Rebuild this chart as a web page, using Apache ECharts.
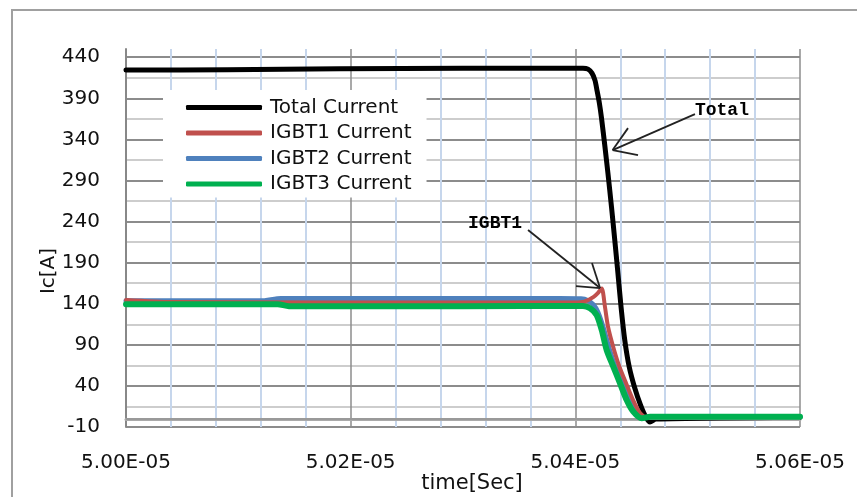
<!DOCTYPE html>
<html>
<head>
<meta charset="utf-8">
<script src="https://cdn.jsdelivr.net/npm/echarts@6/dist/echarts.min.js"></script>
<style>html,body{margin:0;padding:0;background:#fff}#c{width:857px;height:497px}</style>
</head>
<body>
<div id="c"></div>
<script>
// ---- data (time in ns, current in A) ----
const xTickLabels = ['5.00E-05', '5.02E-05', '5.04E-05', '5.06E-05'];
const yMajorTicks = [-10, 40, 90, 140, 190, 240, 290, 340, 390, 440];

const totalT = [50000, 50090, 50190, 50300, 50406.8, 50411.3, 50414.8, 50417.5, 50419.3, 50421.4, 50423.2, 50426.4, 50429.0, 50432.2, 50435.1, 50437.9, 50440.7, 50444.0, 50448.0, 50452.9, 50458.0, 50462.7, 50466.5, 50471.8, 50600];
const totalI = [424.3, 424.8, 426, 426.5, 426.7, 425.5, 420.7, 411.8, 399.6, 384.2, 367.1, 330.6, 299, 257.6, 217.5, 177.3, 136, 95.8, 63, 37.4, 16.8, 2.2, -3.9, -0.3, 2];

const igbt1T = [50000, 50040, 50300, 50400, 50408, 50416, 50420, 50423.5, 50426.4, 50429.1, 50433.6, 50439.3, 50445.1, 50451.3, 50457.6, 50463.8, 50470, 50600];
const igbt1I = [144.5, 142, 141.5, 141.5, 142.5, 148, 153, 158.5, 136, 112, 88, 63, 43.5, 23, 7, 1, 2.5, 2.5];

const igbt2T = [50000, 50120, 50138, 50300, 50386, 50405, 50411, 50416, 50420, 50424.6, 50430, 50435, 50441, 50447, 50453, 50460, 50467, 50600];
const igbt2I = [143.5, 143.5, 146.5, 146.5, 146.5, 146, 144, 139, 130, 112, 86, 65, 45, 25, 10, 1.5, 2.5, 2.5];

const igbt3T = [50000, 50135, 50145, 50300, 50406.8, 50413.1, 50419, 50423.5, 50427.9, 50433.8, 50439.8, 50445.7, 50451.6, 50459.1, 50466.5, 50600];
const igbt3I = [139.5, 139.5, 137, 137, 137.2, 134.4, 126.3, 108, 83.7, 63.4, 43.2, 22.8, 8.6, 0.6, 2.5, 2.5];

const zip = (t, v) => t.map((x, i) => [x, v[i]]);

const chart = echarts.init(document.getElementById('c'), null, {renderer: 'canvas'});
const font = 'DejaVu Sans';
const arrowStyle = {color: '#222', width: 1.8, type: 'solid'};
const seg = (a, b) => [{coord: a}, {coord: b}];

const lineSeries = (name, t, v, color, width, z) => ({
  name, type: 'line', data: zip(t, v), showSymbol: false, symbol: 'none',
  smooth: 0.25, z, lineStyle: {color, width, cap: 'round', join: 'round'},
  itemStyle: {color}, emphasis: {disabled: true}, silent: true
});

chart.setOption({
  animation: false,
  backgroundColor: '#fff',
  graphic: [{
    type: 'rect', shape: {x: 12, y: 10, width: 900, height: 600},
    style: {fill: 'none', stroke: '#a0a0a0', lineWidth: 2}, silent: true
  }],
  grid: {left: 126, right: 57, top: 49, bottom: 70, containLabel: false, outerBoundsMode: 'none'},
  legend: {
    data: ['Total Current', 'IGBT1 Current', 'IGBT2 Current', 'IGBT3 Current'],
    orient: 'vertical', left: 163, top: 90,
    backgroundColor: '#fff', padding: [5, 15, 1, 23],
    itemGap: 0.5, itemWidth: 76, itemHeight: 5, icon: 'roundRect',
    textStyle: {fontFamily: font, fontSize: 20, color: '#111', lineHeight: 25, padding: [0, 0, 0, 3]},
    selectedMode: false
  },
  xAxis: {
    type: 'value', min: 50000, max: 50600, interval: 200,
    name: 'time[Sec]', nameLocation: 'middle', nameGap: 46, nameMoveOverlap: false,
    nameTextStyle: {fontFamily: font, fontSize: 21, color: '#111', padding: [0, 0, 0, 18]},
    axisLine: {show: true, lineStyle: {color: '#aaa', width: 3}},
    axisTick: {show: false},
    axisLabel: {
      margin: 26, fontFamily: font, fontSize: 20, color: '#111',
      formatter: v => xTickLabels[Math.round((v - 50000) / 200)] || ''
    },
    splitLine: {show: true, lineStyle: {color: '#8c8c8c', width: 1.5}},
    minorTick: {show: false, splitNumber: 5},
    minorSplitLine: {show: true, lineStyle: {color: '#c6d6ec', width: 2}}
  },
  yAxis: {
    type: 'value', min: -10, max: 450, interval: 25,
    name: 'Ic[A]', nameLocation: 'middle', nameRotate: 90, nameGap: 67, nameMoveOverlap: false,
    nameTextStyle: {fontFamily: font, fontSize: 20, color: '#111', padding: [0, 66, 0, 0]},
    axisLine: {show: true, lineStyle: {color: '#888', width: 2}},
    axisTick: {show: false},
    axisLabel: {
      margin: 26, fontFamily: font, fontSize: 20, color: '#111', showMaxLabel: false,
      formatter: v => (yMajorTicks.indexOf(v) >= 0 ? String(v) : '')
    },
    splitLine: {show: true, showMaxLine: false, lineStyle: {color: ['#8c8c8c', '#cdcdcd'], width: 2}}
  },
  series: [
    {
      name: 'helper', type: 'line', data: [], z: 1, silent: true,
      markLine: {
        silent: true, symbol: ['none', 'none'], label: {show: false},
        emphasis: {disabled: true}, animation: false,
        data: [
          {yAxis: 0, lineStyle: {color: '#999', width: 2, type: 'solid'}}
        ]
      }
    },
    Object.assign(lineSeries('Total Current', totalT, totalI, '#000000', 5, 2), {
      markLine: {
        silent: true, symbol: ['none', 'none'], label: {show: false},
        emphasis: {disabled: true}, animation: false, lineStyle: arrowStyle,
        data: [
          seg([50506.5, 370.8], [50433.2, 327]),
          seg([50433.2, 327], [50446.9, 353.7]),
          seg([50433.2, 327], [50455.8, 320.9]),
          seg([50357.9, 229.7], [50422, 159.1]),
          seg([50422, 159.1], [50414.8, 189.5]),
          seg([50422, 159.1], [50400.6, 161.5])
        ]
      },
      markPoint: {
        silent: true, symbol: 'circle', symbolSize: 0, animation: false,
        label: {show: true, position: 'right', distance: 0, fontFamily: 'Liberation Mono', fontWeight: 'bold', fontSize: 18, color: '#000'},
        data: [
          {coord: [50506.5, 375.6], label: {formatter: 'Total'}},
          {coord: [50304.5, 238.2], label: {formatter: 'IGBT1'}}
        ]
      }
    }),
    lineSeries('IGBT2 Current', igbt2T, igbt2I, '#4f81bd', 5, 3),
    lineSeries('IGBT1 Current', igbt1T, igbt1I, '#c0504d', 4, 4),
    lineSeries('IGBT3 Current', igbt3T, igbt3I, '#00b050', 6, 5)
  ]
});
</script>
</body>
</html>
